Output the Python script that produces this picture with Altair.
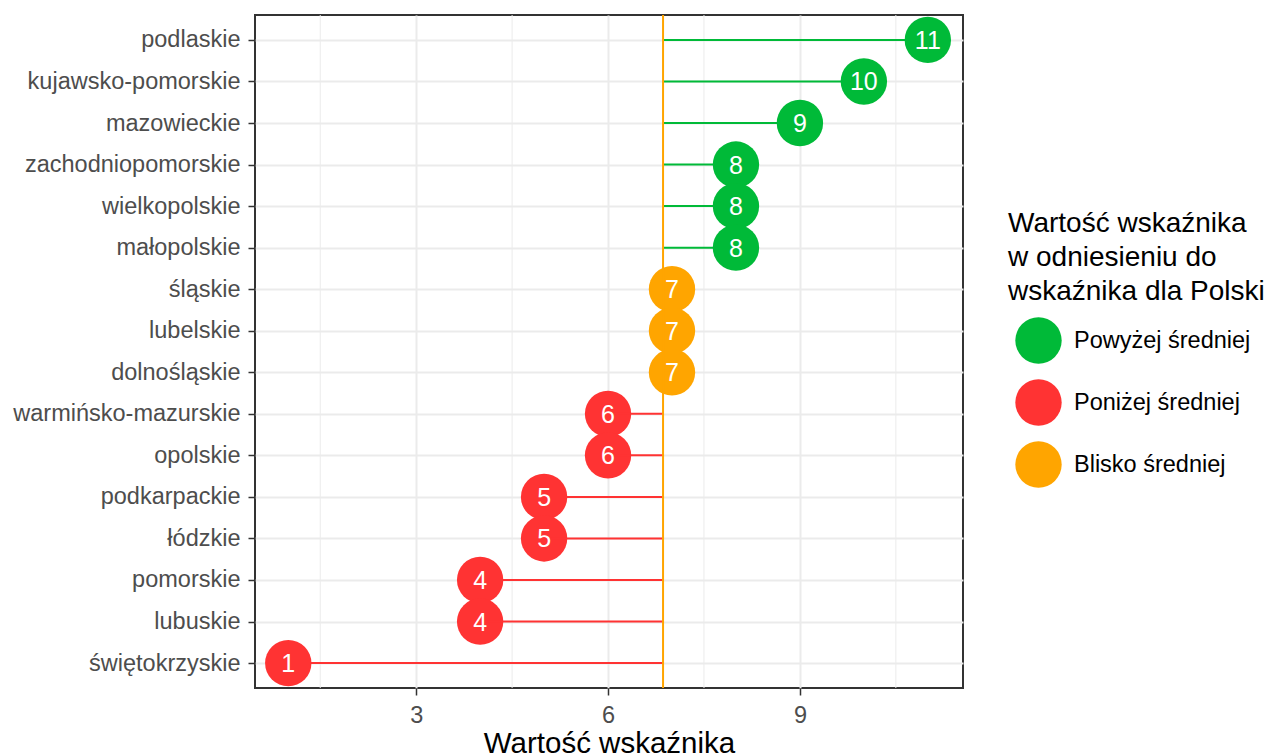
import altair as alt
import pandas as pd

regions = ["podlaskie", "kujawsko-pomorskie", "mazowieckie", "zachodniopomorskie",
           "wielkopolskie", "małopolskie", "śląskie", "lubelskie", "dolnośląskie",
           "warmińsko-mazurskie", "opolskie", "podkarpackie", "łódzkie", "pomorskie",
           "lubuskie", "świętokrzyskie"]
values = [11, 10, 9, 8, 8, 8, 7, 7, 7, 6, 6, 5, 5, 4, 4, 1]
groups = (["Powyżej średniej"] * 6 + ["Blisko średniej"] * 3 + ["Poniżej średniej"] * 7)
poland_value = 6.86
x_ticks = [3, 6, 9]
minor_ticks = [1.5, 4.5, 7.5, 10.5]
legend_order = ["Powyżej średniej", "Poniżej średniej", "Blisko średniej"]
legend_colors = ["#00BA38", "#FF3333", "#FFA500"]
legend_title = ["Wartość wskaźnika", "w odniesieniu do", "wskaźnika dla Polski"]

df = pd.DataFrame({"region": regions, "value": values, "group": groups,
                   "label": [str(v) for v in values]})
df["mean"] = poland_value
minor_df = pd.DataFrame({"m": minor_ticks})
mean_df = pd.DataFrame({"mean": [poland_value]})

FONT = "Liberation Sans"

xscale = alt.Scale(domain=[0.48, 11.55], nice=False, zero=False)
yscale = alt.Scale(type="point", domain=regions, padding=0.6)

legend = alt.Legend(
    title=legend_title, orient="none", legendX=753, legendY=195,
    titleFontSize=28, titleFontWeight="normal", titleColor="black", titleFont=FONT,
    titleLineHeight=34, titlePadding=11, titleLimit=500,
    labelFontSize=23.5, labelColor="black", labelFont=FONT, labelOffset=12, labelLimit=500,
    symbolType="circle", symbolSize=2150, symbolStrokeWidth=0, rowPadding=15,
    symbolOffset=7,
)
color = alt.Color("group:N", scale=alt.Scale(domain=legend_order, range=legend_colors),
                  legend=legend)

xaxis = alt.Axis(values=x_ticks, format="d", grid=True, gridColor="#EBEBEB", gridWidth=2,
                 domain=False, tickColor="#333333", tickWidth=1.5, tickSize=7,
                 labelFontSize=23.5, labelColor="#4D4D4D", labelFont=FONT, labelPadding=8,
                 title="Wartość wskaźnika", titleFontSize=29.5, titleFontWeight="normal",
                 titleColor="black", titleFont=FONT, titleY=64, titleBaseline="alphabetic")
yaxis = alt.Axis(grid=True, gridColor="#EBEBEB", gridWidth=2, domain=False,
                 tickColor="#333333", tickWidth=1.5, tickSize=7, labelLimit=500,
                 labelFontSize=23.5, labelColor="#4D4D4D", labelFont=FONT, labelPadding=8)

minor = alt.Chart(minor_df).mark_rule(color="#EBEBEB", strokeWidth=1).encode(
    x=alt.X("m:Q", scale=xscale, axis=xaxis))

circles = alt.Chart(df).mark_circle(size=2150, opacity=1).encode(
    x=alt.X("value:Q", scale=xscale, axis=xaxis),
    y=alt.Y("region:N", scale=yscale, axis=yaxis, title=None),
    color=color)

segs = alt.Chart(df).mark_rule(strokeWidth=2).encode(
    x=alt.X("mean:Q", scale=xscale),
    x2="value:Q",
    y=alt.Y("region:N", scale=yscale),
    color=color)

mean_line = alt.Chart(mean_df).mark_rule(color="#FFA500", strokeWidth=2).encode(
    x=alt.X("mean:Q", scale=xscale))

labels = alt.Chart(df).mark_text(color="white", fontSize=25, font=FONT,
                                 align="center", baseline="middle", dy=1).encode(
    x=alt.X("value:Q", scale=xscale),
    y=alt.Y("region:N", scale=yscale),
    text="label:N")

chart = alt.layer(minor, circles, segs, mean_line, labels).properties(
    width=708, height=673,
    autosize=alt.AutoSizeParams(type="none"),
    padding={"left": 247, "top": 7, "right": 309, "bottom": 70},
    background="white",
).configure_view(stroke="#333333", strokeWidth=2)

chart.save("out.html", embed_options={"renderer": "svg", "actions": False})
